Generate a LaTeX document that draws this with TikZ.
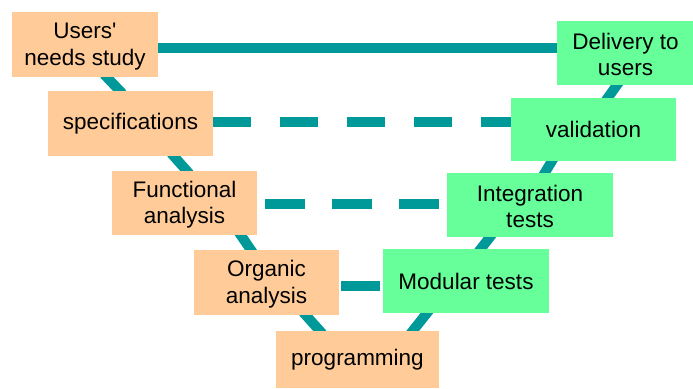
\documentclass[tikz,border=0pt]{standalone}
\usepackage{fontspec}
\setmainfont{Liberation Sans}
\usetikzlibrary{calc,backgrounds}
\pgfdeclarelayer{canvasbg}
\pgfsetlayers{canvasbg,background,main}
\definecolor{peach}{HTML}{FFCC99}
\definecolor{mint}{HTML}{66FF99}
\definecolor{teal}{HTML}{009999}
\begin{document}
\begin{tikzpicture}[x=1pt,y=-1pt,
  box/.style={rectangle, inner sep=0pt, align=center, font=\fontsize{22.5}{26.5}\selectfont},
  two/.style={text height=46pt},
  left/.style={box, fill=peach},
  right/.style={box, fill=mint},
  link/.style={draw=teal, line width=10pt, line cap=butt},
  diag/.style={link, shorten <=-4pt, shorten >=-4pt},
  dashA/.style={link, dash pattern=on 38pt off 29pt},
  dashB/.style={link, dash pattern=on 40pt off 27pt}]
\begin{pgfonlayer}{canvasbg}
\fill[white] (0,0) rectangle (693,388);
\end{pgfonlayer}
\useasboundingbox (0,0) rectangle (693,388);
\node[left, two, minimum width=146pt, minimum height=65pt] (users) at (85,44.5) {Users\textquotesingle\\needs study};
\node[left, minimum width=165pt, minimum height=65pt] (spec) at (130.5,123.5) {specifications};
\node[left, two, minimum width=145pt, minimum height=64pt] (func) at (184.5,203) {Functional\\analysis};
\node[left, two, minimum width=145pt, minimum height=65pt] (org) at (266.5,282.5) {Organic\\analysis};
\node[left, minimum width=163pt, minimum height=57pt] (prog) at (357.5,359.5) {programming};
\node[right, minimum width=166pt, minimum height=64pt] (mod) at (466,281) {Modular tests};
\node[right, two, minimum width=166pt, minimum height=64pt] (int) at (530,205) {Integration\\tests};
\node[right, minimum width=165pt, minimum height=63pt] (val) at (593.5,129.5) {validation};
\node[right, two, minimum width=137pt, minimum height=64pt] (del) at (625.5,53) {Delivery to\\users};
\begin{scope}[on background layer]
\draw[diag] ($(users.south west)+(95,0)$) -- ($(spec.north west)+(72,0)$);
\draw[diag] ($(spec.south west)+(126,0)$) -- ($(func.north west)+(75,0)$);
\draw[diag] ($(func.south west)+(129,0)$) -- ($(org.north west)+(57,0)$);
\draw[diag] ($(org.south west)+(112,0)$) -- ($(prog.north west)+(44,0)$);
\draw[diag] ($(prog.north west)+(137,0)$) -- ($(mod.south west)+(44,0)$);
\draw[diag] ($(mod.north west)+(98,0)$) -- ($(int.south west)+(43,0)$);
\draw[diag] ($(int.north west)+(98,0)$) -- ($(val.south west)+(41,0)$);
\draw[diag] ($(val.north west)+(97,0)$) -- ($(del.south west)+(60,0)$);
\draw[link] ($(users.east)+(0,3.5)$) -- ($(del.west)+(0,-5)$);
\draw[dashA] ($(spec.east)+(0,-1.5)$) -- ($(val.west)+(0,-7.5)$);
\draw[dashB] ($(func.east)+(8,1)$) -- ($(int.west)+(-8,-1)$);
\draw[link] ($(org.east)+(2,3.5)$) -- ($(mod.west)+(-3,5)$);
\end{scope}
\end{tikzpicture}
\end{document}
